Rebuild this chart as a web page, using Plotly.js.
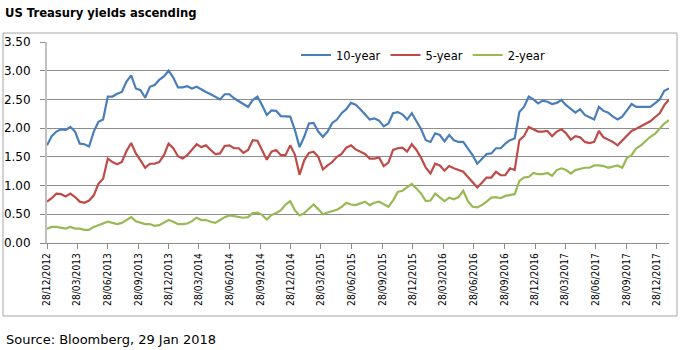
<!DOCTYPE html>
<html><head><meta charset="utf-8">
<script src="https://cdn.plot.ly/plotly-3.0.1.min.js"></script>
<style>html,body{margin:0;padding:0;background:#fff;}#chart{width:700px;height:350px;}</style>
</head><body><div id="chart"></div>
<script>
// Sampling: every 14 days starting 28/12/2012
const startDate = '2012-12-28';
const stepDays = 14;

const y10 = [1.70,1.86,1.94,1.98,1.97,2.02,1.94,1.73,1.72,1.68,
1.94,2.11,2.15,2.55,2.55,2.60,2.63,2.81,2.92,2.69,
2.66,2.53,2.72,2.75,2.84,2.90,3.00,2.88,2.71,2.71,
2.73,2.69,2.72,2.67,2.63,2.59,2.55,2.50,2.59,2.59,
2.52,2.47,2.41,2.37,2.49,2.55,2.40,2.23,2.31,2.30,
2.21,2.20,2.20,1.97,1.67,1.85,2.08,2.09,1.94,1.85,
1.94,2.09,2.15,2.26,2.33,2.44,2.41,2.33,2.23,2.15,
2.17,2.13,2.03,2.08,2.26,2.28,2.24,2.15,2.26,2.11,
1.98,1.79,1.76,1.91,1.88,1.77,1.88,1.79,1.76,1.76,
1.65,1.53,1.38,1.47,1.55,1.56,1.65,1.65,1.73,1.79,
1.82,2.28,2.37,2.55,2.50,2.43,2.48,2.46,2.42,2.44,
2.49,2.40,2.33,2.27,2.33,2.23,2.19,2.15,2.37,2.30,
2.27,2.20,2.15,2.20,2.31,2.42,2.37,2.37,2.37,2.37,
2.43,2.50,2.65,2.69];

const y5 = [0.72,0.78,0.86,0.85,0.81,0.86,0.80,0.72,0.70,0.74,
0.83,1.03,1.12,1.47,1.41,1.37,1.41,1.60,1.74,1.56,
1.44,1.31,1.38,1.38,1.41,1.53,1.73,1.65,1.51,1.47,
1.53,1.63,1.72,1.67,1.70,1.62,1.55,1.56,1.69,1.70,
1.65,1.65,1.57,1.62,1.79,1.78,1.60,1.45,1.59,1.62,
1.53,1.53,1.70,1.54,1.19,1.44,1.57,1.59,1.50,1.28,
1.35,1.41,1.50,1.55,1.66,1.70,1.63,1.59,1.55,1.47,
1.47,1.49,1.34,1.40,1.62,1.65,1.66,1.59,1.72,1.62,
1.48,1.31,1.21,1.38,1.35,1.26,1.34,1.30,1.27,1.24,
1.15,1.05,0.97,1.05,1.14,1.14,1.24,1.18,1.18,1.30,
1.27,1.79,1.86,2.02,1.98,1.94,1.94,1.95,1.86,1.94,
1.98,1.91,1.80,1.86,1.84,1.76,1.74,1.76,1.95,1.84,
1.80,1.76,1.70,1.78,1.86,1.95,1.99,2.03,2.08,2.12,
2.19,2.26,2.40,2.50];

const y2 = [0.25,0.28,0.28,0.27,0.25,0.28,0.25,0.25,0.23,0.23,
0.28,0.31,0.34,0.37,0.35,0.33,0.35,0.40,0.45,0.38,
0.35,0.33,0.33,0.30,0.31,0.36,0.40,0.37,0.33,0.33,
0.34,0.38,0.44,0.40,0.40,0.37,0.35,0.40,0.45,0.48,
0.47,0.46,0.44,0.45,0.52,0.53,0.49,0.41,0.49,0.52,
0.57,0.67,0.73,0.57,0.48,0.52,0.59,0.67,0.59,0.50,
0.53,0.56,0.58,0.63,0.70,0.67,0.66,0.69,0.72,0.66,
0.70,0.72,0.67,0.63,0.74,0.89,0.91,0.97,1.03,0.95,
0.86,0.73,0.74,0.86,0.80,0.73,0.79,0.76,0.80,0.91,
0.73,0.63,0.62,0.66,0.72,0.79,0.80,0.78,0.82,0.83,
0.85,1.08,1.14,1.15,1.22,1.20,1.20,1.22,1.17,1.27,
1.30,1.27,1.21,1.27,1.29,1.31,1.31,1.35,1.35,1.34,
1.31,1.33,1.35,1.31,1.48,1.53,1.65,1.70,1.77,1.85,
1.90,1.99,2.08,2.14];

const tickDates = ['2012-12-28','2013-03-28','2013-06-28','2013-09-28','2013-12-28',
'2014-03-28','2014-06-28','2014-09-28','2014-12-28','2015-03-28','2015-06-28',
'2015-09-28','2015-12-28','2016-03-28','2016-06-28','2016-09-28','2016-12-28',
'2017-03-28','2017-06-28','2017-09-28','2017-12-28'];
const tickLabels = ['28/12/2012','28/03/2013','28/06/2013','28/09/2013','28/12/2013',
'28/03/2014','28/06/2014','28/09/2014','28/12/2014','28/03/2015','28/06/2015',
'28/09/2015','28/12/2015','28/03/2016','28/06/2016','28/09/2016','28/12/2016',
'28/03/2017','28/06/2017','28/09/2017','28/12/2017'];

const seriesNames = ['10-year','5-year','2-year'];
const seriesColors = ['#4A7EBB','#BE4B48','#98B954'];

const t0 = Date.parse(startDate + 'T00:00:00Z');
const dates = y10.map((_, i) => new Date(t0 + i*stepDays*86400000).toISOString().slice(0,10));

const traces = [y10, y5, y2].map((ys, k) => ({
  x: dates, y: ys, type: 'scatter', mode: 'lines', name: seriesNames[k],
  line: {color: seriesColors[k], width: 2.2}
}));

const baseFont = 'DejaVu Sans, Verdana, sans-serif';
const L = 47, R = 31, T = 42, B = 107;
const pw = 700 - L - R, ph = 350 - T - B;
const px = v => (v - L) / pw;
const py = v => (350 - B - v) / ph;

const layout = {
  width: 700, height: 350,
  margin: {l: L, r: R, t: T, b: B, pad: 0},
  paper_bgcolor: '#fff', plot_bgcolor: '#fff',
  font: {family: baseFont, size: 12, color: '#000'},
  title: {text: '<b>US Treasury yields ascending</b>', x: 5/700, xanchor: 'left', xref: 'container',
          y: 1 - 13/350, yanchor: 'middle', yref: 'container',
          font: {family: baseFont, size: 11.6, color: '#000'}},
  showlegend: true,
  legend: {orientation: 'h', x: px(296), xanchor: 'left', y: py(55), yanchor: 'middle',
           font: {family: baseFont, size: 11.5, color: '#000'}, bgcolor: 'rgba(0,0,0,0)',
           itemwidth: 30, tracegroupgap: 0},
  xaxis: {type: 'date', range: ['2012-12-28', '2018-02-02'], tickvals: tickDates, ticktext: tickLabels,
          tickangle: -90, showgrid: false, zeroline: false, showline: true, linecolor: '#8c8c8c', linewidth: 1,
          ticks: 'outside', ticklen: 5, tickcolor: '#8c8c8c', tickwidth: 1,
          tickfont: {family: 'Liberation Sans Narrow, DejaVu Sans Condensed, Arial Narrow, sans-serif', size: 10.2, color: '#000'},
          fixedrange: true},
  yaxis: {range: [0, 3.5], tickvals: [0,0.5,1,1.5,2,2.5,3,3.5], tickformat: '.2f',
          showgrid: true, gridcolor: '#8c8c8c', gridwidth: 1, zeroline: false,
          showline: true, linecolor: '#c0c0c0', linewidth: 2,
          ticks: 'outside', ticklen: 5, tickcolor: '#8c8c8c', tickwidth: 1, ticklabelstandoff: 7,
          tickfont: {family: baseFont, size: 12, color: '#000'}, fixedrange: true},
  shapes: [{type: 'rect', xref: 'paper', yref: 'paper', x0: px(3), x1: px(677), y0: py(316), y1: py(33),
            line: {color: '#a6a6a6', width: 1}, fillcolor: 'rgba(0,0,0,0)', layer: 'below'}],
  annotations: [{text: 'Source: Bloomberg, 29 Jan 2018', xref: 'paper', yref: 'paper', x: px(4), y: py(339),
                 xanchor: 'left', yanchor: 'middle', showarrow: false,
                 font: {family: baseFont, size: 13, color: '#000'}}]
};

Plotly.newPlot('chart', traces, layout, {displayModeBar: false, staticPlot: true});
</script></body></html>
